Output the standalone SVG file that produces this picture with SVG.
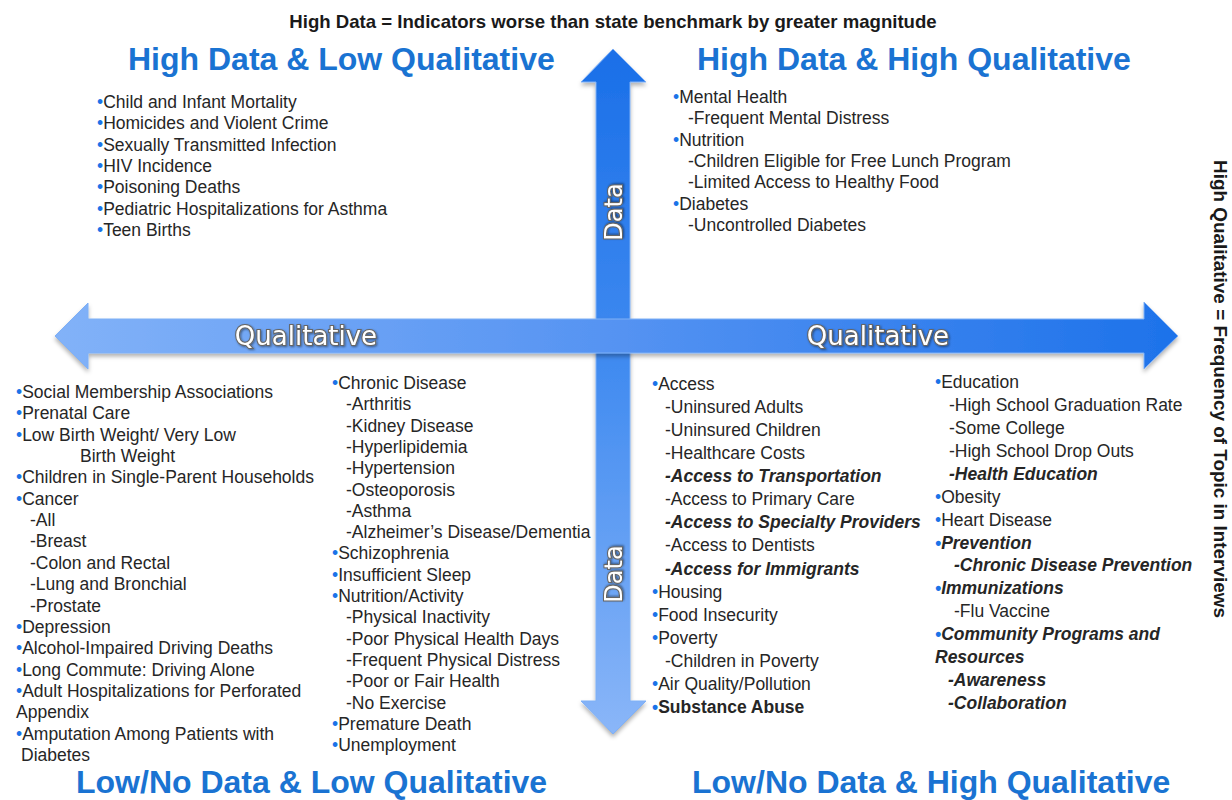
<svg xmlns="http://www.w3.org/2000/svg" width="1232" height="800" viewBox="0 0 1232 800">
<defs>
<linearGradient id="gv" x1="0" y1="0" x2="0" y2="1">
<stop offset="0" stop-color="#1a6fe8"/>
<stop offset="0.45" stop-color="#3f8af0"/>
<stop offset="1" stop-color="#8ab6f8"/>
</linearGradient>
<linearGradient id="gh" x1="0" y1="0" x2="1" y2="0">
<stop offset="0" stop-color="#82b2f8"/>
<stop offset="0.5" stop-color="#5593f2"/>
<stop offset="1" stop-color="#1d72ea"/>
</linearGradient>
<filter id="sh" x="-5%" y="-5%" width="110%" height="115%">
<feDropShadow dx="0" dy="3" stdDeviation="2" flood-color="#000" flood-opacity="0.3"/>
</filter>
<filter id="ts" x="-10%" y="-20%" width="120%" height="150%">
<feDropShadow dx="1" dy="1" stdDeviation="1" flood-color="#000" flood-opacity="0.45"/>
</filter>
</defs>
<style>
.t{font-family:"Liberation Sans",Arial,sans-serif;font-size:17.5px;fill:#262626}
.b{fill:#1a73e8}
.bi{font-weight:bold;font-style:italic}
.bd{font-weight:bold}
.title{font-family:"Liberation Sans",Arial,sans-serif;font-size:32px;font-weight:bold;fill:#1a73d2}
.hdr{font-family:"Liberation Sans",Arial,sans-serif;font-weight:bold;fill:#1a1a1a}
.ax{font-family:"DejaVu Sans",Verdana,sans-serif;fill:#fff;stroke:#666;stroke-width:2.2;paint-order:stroke;filter:url(#ts)}
</style>
<rect width="1232" height="800" fill="#fff"/>

<g id="connectors">
<path id="vertical-arrow" d="M613,49 L646,82 L630,82 L630,701 L646,701 L613,734 L581,701 L596,701 L596,82 L581,82 Z" fill="url(#gv)" stroke="#7fb0f6" stroke-width="1" filter="url(#sh)"/>
<path id="horizontal-arrow" d="M55,336 L88,303 L88,319 L1144,319 L1144,302 L1178,336 L1144,369 L1144,353 L88,353 L88,369 Z" fill="url(#gh)" stroke="#7fb0f6" stroke-width="1" filter="url(#sh)"/>
<text class="ax" font-size="24" transform="translate(622,212) rotate(-90)" text-anchor="middle">Data</text>
<text class="ax" font-size="24" transform="translate(622,574) rotate(-90)" text-anchor="middle">Data</text>
<text class="ax" font-size="26" x="306" y="345" text-anchor="middle">Qualitative</text>
<text class="ax" font-size="26" x="878" y="345" text-anchor="middle">Qualitative</text>
</g>

<g id="header">
<text class="hdr" font-size="18.6" x="613" y="28" text-anchor="middle">High Data = Indicators worse than state benchmark by greater magnitude</text>
<text class="hdr" font-size="18.9" transform="translate(1214,389) rotate(90)" text-anchor="middle">High Qualitative = Frequency of Topic  in Interviews</text>
</g>

<g id="titles">
<text class="title" x="128" y="70">High Data &amp; Low Qualitative</text>
<text class="title" x="697" y="70">High Data &amp; High Qualitative</text>
<text class="title" x="76" y="793">Low/No Data &amp; Low Qualitative</text>
<text class="title" x="692" y="793">Low/No Data &amp; High Qualitative</text>
</g>

<g id="high-data-low-qual">
<text class="t" x="97" y="108"><tspan class="b">•</tspan>Child and Infant Mortality</text>
<text class="t" x="97" y="129.3"><tspan class="b">•</tspan>Homicides and Violent Crime</text>
<text class="t" x="97" y="150.6"><tspan class="b">•</tspan>Sexually Transmitted Infection</text>
<text class="t" x="97" y="171.9"><tspan class="b">•</tspan>HIV Incidence</text>
<text class="t" x="97" y="193.2"><tspan class="b">•</tspan>Poisoning Deaths</text>
<text class="t" x="97" y="214.5"><tspan class="b">•</tspan>Pediatric Hospitalizations for Asthma</text>
<text class="t" x="97" y="235.8"><tspan class="b">•</tspan>Teen Births</text>
</g>

<g id="high-data-high-qual">
<text class="t" x="673" y="103"><tspan class="b">•</tspan>Mental Health</text>
<text class="t" x="688" y="124.3">-Frequent Mental Distress</text>
<text class="t" x="673" y="145.6"><tspan class="b">•</tspan>Nutrition</text>
<text class="t" x="688" y="166.9">-Children Eligible for Free Lunch Program</text>
<text class="t" x="688" y="188.2">-Limited Access to Healthy Food</text>
<text class="t" x="673" y="209.5"><tspan class="b">•</tspan>Diabetes</text>
<text class="t" x="688" y="230.8">-Uncontrolled Diabetes</text>
</g>

<g id="low-data-low-qual-1">
<text class="t" x="16" y="398"><tspan class="b">•</tspan>Social Membership Associations</text>
<text class="t" x="16" y="419.35"><tspan class="b">•</tspan>Prenatal Care</text>
<text class="t" x="16" y="440.7"><tspan class="b">•</tspan>Low Birth Weight/ Very Low</text>
<text class="t" x="80" y="462.05">Birth Weight</text>
<text class="t" x="16" y="483.4"><tspan class="b">•</tspan>Children in Single-Parent Households</text>
<text class="t" x="16" y="504.75"><tspan class="b">•</tspan>Cancer</text>
<text class="t" x="30" y="526.1">-All</text>
<text class="t" x="30" y="547.45">-Breast</text>
<text class="t" x="30" y="568.8">-Colon and Rectal</text>
<text class="t" x="30" y="590.15">-Lung and Bronchial</text>
<text class="t" x="30" y="611.5">-Prostate</text>
<text class="t" x="16" y="632.85"><tspan class="b">•</tspan>Depression</text>
<text class="t" x="16" y="654.2"><tspan class="b">•</tspan>Alcohol-Impaired Driving Deaths</text>
<text class="t" x="16" y="675.55"><tspan class="b">•</tspan>Long Commute: Driving Alone</text>
<text class="t" x="16" y="696.9"><tspan class="b">•</tspan>Adult Hospitalizations for Perforated</text>
<text class="t" x="16" y="718.25">Appendix</text>
<text class="t" x="16" y="739.6"><tspan class="b">•</tspan>Amputation Among Patients with</text>
<text class="t" x="21" y="760.95">Diabetes</text>
</g>

<g id="low-data-low-qual-2">
<text class="t" x="332" y="389"><tspan class="b">•</tspan>Chronic Disease</text>
<text class="t" x="346" y="410.3">-Arthritis</text>
<text class="t" x="346" y="431.6">-Kidney Disease</text>
<text class="t" x="346" y="452.9">-Hyperlipidemia</text>
<text class="t" x="346" y="474.2">-Hypertension</text>
<text class="t" x="346" y="495.5">-Osteoporosis</text>
<text class="t" x="346" y="516.8">-Asthma</text>
<text class="t" x="346" y="538.1">-Alzheimer’s Disease/Dementia</text>
<text class="t" x="332" y="559.4"><tspan class="b">•</tspan>Schizophrenia</text>
<text class="t" x="332" y="580.7"><tspan class="b">•</tspan>Insufficient Sleep</text>
<text class="t" x="332" y="602"><tspan class="b">•</tspan>Nutrition/Activity</text>
<text class="t" x="346" y="623.3">-Physical Inactivity</text>
<text class="t" x="346" y="644.6">-Poor Physical Health Days</text>
<text class="t" x="346" y="665.9">-Frequent Physical Distress</text>
<text class="t" x="346" y="687.2">-Poor or Fair Health</text>
<text class="t" x="346" y="708.5">-No Exercise</text>
<text class="t" x="332" y="729.8"><tspan class="b">•</tspan>Premature Death</text>
<text class="t" x="332" y="751.1"><tspan class="b">•</tspan>Unemployment</text>
</g>

<g id="low-data-high-qual-1">
<text class="t" x="652" y="390"><tspan class="b">•</tspan>Access</text>
<text class="t" x="665" y="413.07">-Uninsured Adults</text>
<text class="t" x="665" y="436.14">-Uninsured Children</text>
<text class="t" x="665" y="459.21">-Healthcare Costs</text>
<text class="t bi" x="665" y="482.28">-Access to Transportation</text>
<text class="t" x="665" y="505.35">-Access to Primary Care</text>
<text class="t bi" x="665" y="528.42">-Access to Specialty Providers</text>
<text class="t" x="665" y="551.49">-Access to Dentists</text>
<text class="t bi" x="665" y="574.56">-Access for Immigrants</text>
<text class="t" x="652" y="597.63"><tspan class="b">•</tspan>Housing</text>
<text class="t" x="652" y="620.7"><tspan class="b">•</tspan>Food Insecurity</text>
<text class="t" x="652" y="643.77"><tspan class="b">•</tspan>Poverty</text>
<text class="t" x="665" y="666.84">-Children in Poverty</text>
<text class="t" x="652" y="689.91"><tspan class="b">•</tspan>Air Quality/Pollution</text>
<text class="t bd" x="652" y="712.98"><tspan class="b">•</tspan>Substance Abuse</text>
</g>

<g id="low-data-high-qual-2">
<text class="t" x="935" y="388"><tspan class="b">•</tspan>Education</text>
<text class="t" x="949" y="410.93">-High School Graduation Rate</text>
<text class="t" x="949" y="433.86">-Some College</text>
<text class="t" x="949" y="456.79">-High School Drop Outs</text>
<text class="t bi" x="949" y="479.72">-Health Education</text>
<text class="t" x="935" y="502.65"><tspan class="b">•</tspan>Obesity</text>
<text class="t" x="935" y="525.58"><tspan class="b">•</tspan>Heart Disease</text>
<text class="t bi" x="935" y="548.51"><tspan class="b">•</tspan>Prevention</text>
<text class="t bi" x="954" y="571.44">-Chronic Disease Prevention</text>
<text class="t bi" x="935" y="594.37"><tspan class="b">•</tspan>Immunizations</text>
<text class="t" x="954" y="617.3">-Flu Vaccine</text>
<text class="t bi" x="935" y="640.23"><tspan class="b">•</tspan>Community Programs and</text>
<text class="t bi" x="935" y="663.16">Resources</text>
<text class="t bi" x="948" y="686.09">-Awareness</text>
<text class="t bi" x="948" y="709.02">-Collaboration</text>
</g>
</svg>
